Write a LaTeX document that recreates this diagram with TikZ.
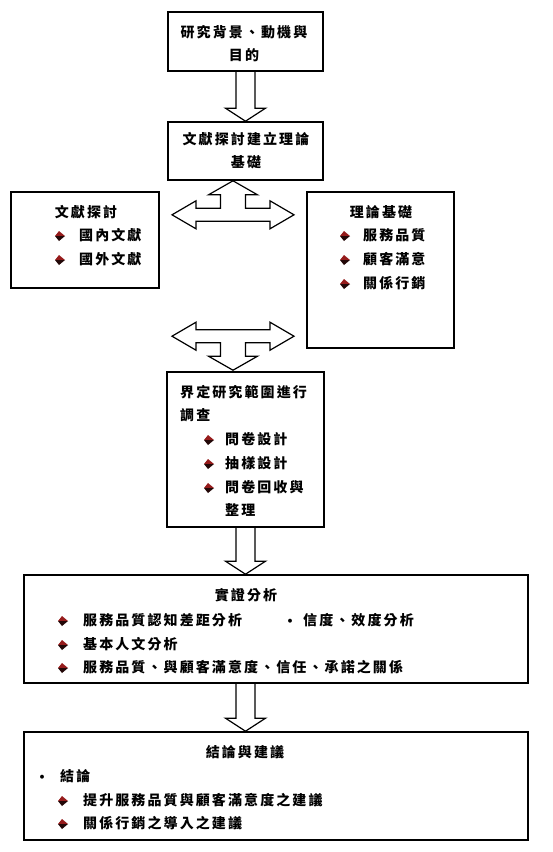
\documentclass[tikz,border=0pt]{standalone}
\usepackage{fontspec}
\newfontfamily\cjk[LetterSpace=15]{Noto Sans CJK TC}
\usetikzlibrary{calc,positioning}
\definecolor{BulRed}{RGB}{150,28,28}
\definecolor{BulDark}{RGB}{35,8,8}
\tikzset{
  box/.style={draw=black,line width=1.6pt,rectangle,inner sep=0pt},
  txt/.style={font=\cjk\bfseries\fontsize{14}{23}\selectfont,inner sep=0pt},
  ltxt/.style={txt,anchor=west},
  barrow/.style={draw=black,line width=1.2pt,line join=miter},
  bul/.pic={
    \fill[BulRed] (-5,0) -- (-1,-5) -- (5,0) -- cycle;
    \fill[BulDark] (-5,0) -- (-1,5) -- (5,0) -- cycle;
  },
  tarrow/.pic={
    \draw[barrow] (-61,0) -- (-37,-14) -- (-37,-6.5) -- (-12.5,-6.5) -- (-12.5,-20)
      -- (-24.5,-20) -- (0,-34) -- (24.5,-20) -- (12.5,-20) -- (12.5,-6.5)
      -- (37,-6.5) -- (37,-14) -- (61,0) -- (37,14) -- (37,6.5) -- (-37,6.5)
      -- (-37,14) -- cycle;
  },
}
% block arrow down, kept in the column of the node "base"
\newcommand{\blockdown}[2]{%
  \draw[barrow] let \p1=(#1.south -| base.south), \p2=(#2.north -| base.south) in
    (\x1-9.5pt,\y1) -- (\x1-9.5pt,\y2+13pt) -- (\x1-20pt,\y2+13pt) -- (\x1,\y2)
    -- (\x1+20pt,\y2+13pt) -- (\x1+9.5pt,\y2+13pt) -- (\x1+9.5pt,\y1);}

\begin{document}
\begin{tikzpicture}[x=1pt,y=-1pt]
    \useasboundingbox (0,0) rectangle (552,852);
    % Node definitions
    \node[box, minimum width=155, minimum height=59] (bg) at (245.5,41.5) {};
    \node[box, minimum width=155, minimum height=58] (base) at (245.5,151) {};
    \node[box, minimum width=148, minimum height=96] (lit) at (85,240) {};
    \node[box, minimum width=147, minimum height=156] (theo) at (380.5,270) {};
    \node[box, minimum width=157, minimum height=155] (scope) at (245.5,449.5) {};
    \node[box, minimum width=504, minimum height=108] (emp) at (276,629) {};
    \node[box, minimum width=504, minimum height=108] (concl) at (276,786) {};

    % Edges
    \blockdown{bg}{base}
    \blockdown{scope}{emp}
    \blockdown{emp}{concl}
    \coordinate (j1) at ($(lit.east |- base.south)!0.5!(theo.west |- base.south)+(0,34)$);
    \coordinate (j2) at ($(lit.east |- scope.north)!0.5!(theo.west |- scope.north)+(0,-35)$);
    \pic at (j1) {tarrow};
    \pic[yscale=-1] at (j2) {tarrow};

    % Labels
    \node[txt, align=center] (bgT) at (244,43.5) {研究背景、動機與\\目的};
    \node[txt, align=center] (baseT) at (246,150.5) {文獻探討建立理論\\基礎};

    \node[txt] (litT) at (86,212) {文獻探討};
    \pic at (60,236) {bul}; \node[ltxt] (lit1) at (79,235) {國內文獻};
    \pic at (60,260) {bul}; \node[ltxt] (lit2) at (79,259) {國外文獻};

    \node[txt] (theoT) at (381,212) {理論基礎};
    \pic at (345,236) {bul}; \node[ltxt] (theo1) at (363,235) {服務品質};
    \pic at (345,260) {bul}; \node[ltxt] (theo2) at (363,259) {顧客滿意};
    \pic at (345,284) {bul}; \node[ltxt] (theo3) at (363,283) {關係行銷};

    \node[ltxt] (scopeT) at (180,392) {界定研究範圍進行};
    \node[ltxt] (scopeT2) at (180,415) {調查};
    \pic at (209,440) {bul}; \node[ltxt] (scope1) at (225,439) {問卷設計};
    \pic at (209,464) {bul}; \node[ltxt] (scope2) at (225,463) {抽樣設計};
    \pic at (209,488) {bul}; \node[ltxt] (scope3) at (225,487) {問卷回收與};
    \node[ltxt] (scope4) at (225,510) {整理};

    \node[txt] (empT) at (246,595) {實證分析};
    \pic at (63,621) {bul}; \node[ltxt] (emp1) at (83,620) {服務品質認知差距分析};
    \node[txt] (empDot) at (290,623) {•};
    \node[ltxt] (emp2) at (303,620) {信度、效度分析};
    \pic at (63,645) {bul}; \node[ltxt] (emp3) at (83,644) {基本人文分析};
    \pic at (63,668) {bul}; \node[ltxt] (emp4) at (83,667) {服務品質、與顧客滿意度、信任、承諾之關係};

    \node[txt] (conclT) at (245,752) {結論與建議};
    \node[txt] (conclDot) at (42,779) {•};
    \node[ltxt] (conclS) at (60,776) {結論};
    \pic at (63,801) {bul}; \node[ltxt] (concl1) at (83,800) {提升服務品質與顧客滿意度之建議};
    \pic at (63,824) {bul}; \node[ltxt] (concl2) at (83,823) {關係行銷之導入之建議};
\end{tikzpicture}
\end{document}
